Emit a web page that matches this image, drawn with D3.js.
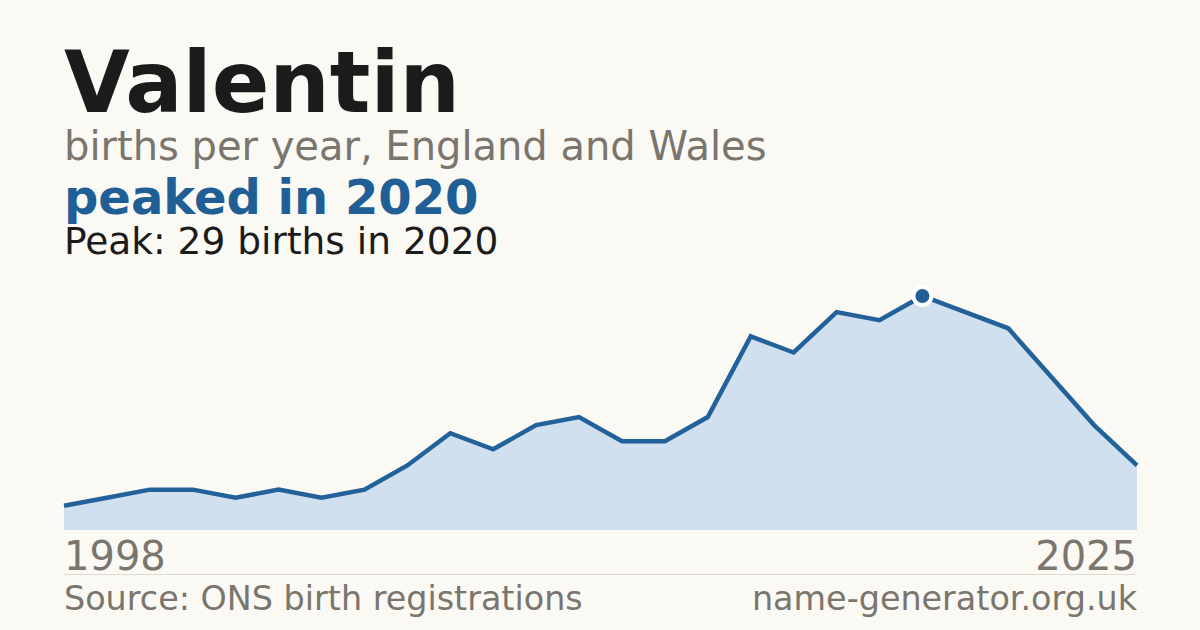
<!DOCTYPE html>
<html>
<head>
<meta charset="utf-8">
<script src="https://cdn.jsdelivr.net/npm/d3@7"></script>
<style>
    html, body { margin: 0; padding: 0; background: #faf9f4; }
    svg { display: block; font-family: "DejaVu Sans", Verdana, sans-serif; }
</style>
</head>
<body>
<script>
// births per year for Valentin (years with too few births are not published)
var years = [1998, 2001, 2002, 2003, 2004, 2005, 2006, 2007, 2008, 2009, 2010, 2011, 2012,
    2013, 2014, 2015, 2016, 2017, 2018, 2019, 2020, 2021, 2022, 2023, 2024, 2025];
var births = [3, 4, 5, 5, 4, 5, 4, 5, 8, 12, 10, 13, 14,
    11, 11, 14, 24, 22, 27, 26, 29, 27, 25, 19, 13, 8];
var axisLabels = ["1998", "2025"];  //only first and last year are labelled
var peakYear = 2020;
var peakValue = 29;

var W = 1200, H = 630;
var chartLeft = 64, chartRight = 1137;  //chart edges
var chartTop = 296, chartBottom = 530;  //peak and baseline

var blue = "#1f5f96";
var grey = "#7a756d";

var svg = d3
    .select("body")
    .append("svg")
    .attr("width", W)
    .attr("height", H);

svg.append("rect")  //background
    .attr("width", W)
    .attr("height", H)
    .attr("fill", "#faf9f4");

var data = years.map(function (y, i) {
    return { year: y, value: births[i] };
});

var x = d3
    .scalePoint()  //one step per published year
    .domain(years)
    .range([chartLeft, chartRight]);

var y = d3
    .scaleLinear()
    .domain([0, d3.max(births)])
    .range([chartBottom, chartTop]);

var area = d3
    .area()
    .x(function (d) { return x(d.year); })
    .y0(chartBottom)
    .y1(function (d) { return y(d.value); });

var line = d3
    .line()
    .x(function (d) { return x(d.year); })
    .y(function (d) { return y(d.value); });

svg.append("path")  //filled area
    .datum(data)
    .attr("d", area)
    .attr("fill", "#d0e0ef");

svg.append("path")  //line on top
    .datum(data)
    .attr("d", line)
    .attr("fill", "none")
    .attr("stroke", "#23619a")
    .attr("stroke-width", 4.5)
    .attr("stroke-linejoin", "miter");

var peak = data.filter(function (d) { return d.year == peakYear; })[0];
svg.append("circle")  //peak marker
    .attr("cx", x(peak.year))
    .attr("cy", y(peak.value))
    .attr("r", 9)
    .attr("fill", blue)
    .attr("stroke", "#ffffff")
    .attr("stroke-width", 4);

// titles
svg.append("text")
    .attr("x", chartLeft)
    .attr("y", 112)
    .attr("font-size", 85)
    .attr("font-weight", "bold")
    .attr("fill", "#1b1b1b")
    .text("Valentin");

svg.append("text")
    .attr("x", chartLeft)
    .attr("y", 160)
    .attr("font-size", 40)
    .attr("fill", grey)
    .text("births per year, England and Wales");

svg.append("text")
    .attr("x", chartLeft)
    .attr("y", 214)
    .attr("font-size", 48)
    .attr("font-weight", "bold")
    .attr("fill", blue)
    .text("peaked in " + peakYear);

svg.append("text")
    .attr("x", chartLeft)
    .attr("y", 254)
    .attr("font-size", 37.5)
    .attr("fill", "#1b1b1b")
    .text("Peak: " + peakValue + " births in " + peakYear);

// year labels
svg.append("text")
    .attr("x", x(years[0]))
    .attr("y", 570)
    .attr("font-size", 40)
    .attr("fill", grey)
    .text(axisLabels[0]);

svg.append("text")
    .attr("x", x(years[years.length - 1]))
    .attr("y", 570)
    .attr("font-size", 40)
    .attr("fill", grey)
    .attr("text-anchor", "end")
    .text(axisLabels[1]);

svg.append("line")  //footer rule
    .attr("x1", chartLeft)
    .attr("x2", chartRight)
    .attr("y1", 574.5)
    .attr("y2", 574.5)
    .attr("stroke", "#e0dbd2")
    .attr("stroke-width", 1);

svg.append("text")
    .attr("x", chartLeft)
    .attr("y", 610)
    .attr("font-size", 33.4)
    .attr("fill", grey)
    .text("Source: ONS birth registrations");

svg.append("text")
    .attr("x", chartRight)
    .attr("y", 610)
    .attr("font-size", 33.4)
    .attr("fill", grey)
    .attr("text-anchor", "end")
    .text("name-generator.org.uk");
</script>
</body>
</html>
